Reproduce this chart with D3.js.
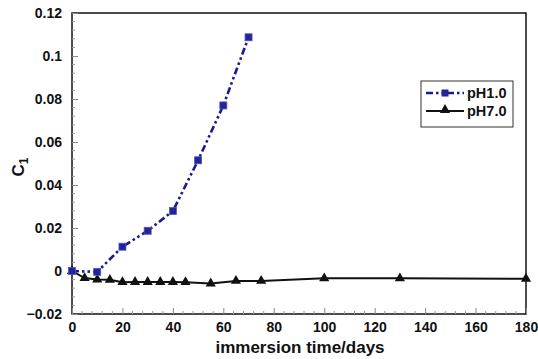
<!DOCTYPE html>
<html><head><meta charset="utf-8">
<script src="https://cdn.jsdelivr.net/npm/d3@7/dist/d3.min.js"></script>
<style>body{margin:0;background:#fff}svg{display:block}text{font-family:"Liberation Sans",Arial,sans-serif;font-weight:bold}</style>
</head><body><svg id="c" width="538" height="359"></svg>
<script>
const ph1Days = [0, 10, 20, 30, 40, 50, 60, 70];
const ph1Values = [0, -0.0004, 0.0113, 0.0187, 0.0279, 0.0515, 0.0770, 0.1087];
const ph7Days = [0, 5, 10, 15, 20, 25, 30, 35, 40, 45, 55, 65, 75, 100, 130, 180];
const ph7Values = [0, -0.0033, -0.0040, -0.0041, -0.0052, -0.0051, -0.0051, -0.0051, -0.0051, -0.0052, -0.0058, -0.0046, -0.0046, -0.0034, -0.0034, -0.0036];
const xTicks = [0, 20, 40, 60, 80, 100, 120, 140, 160, 180];
const yTicks = [-0.02, 0, 0.02, 0.04, 0.06, 0.08, 0.1, 0.12];
const seriesNames = ["pH1.0", "pH7.0"];

const svg = d3.select("#c");
const L = 72, R = 526, T = 13, B = 314;
const x = d3.scaleLinear().domain([0, 180]).range([L, R]);
const y = d3.scaleLinear().domain([-0.02, 0.12]).range([B, T]);

svg.append("rect").attr("x", L).attr("y", T).attr("width", R - L).attr("height", B - T)
  .attr("fill", "none").attr("stroke", "#111").attr("stroke-width", 1.5);

const xMinor = d3.range(0, 181, 4).filter(d => d % 20 !== 0);
const yMinor = d3.range(-0.02, 0.1201, 0.004).filter(d => Math.abs(Math.round(d / 0.02) * 0.02 - d) > 1e-6);
const gx = svg.append("g").attr("transform", `translate(0,${B})`);
gx.call(d3.axisBottom(x).tickValues(xTicks).tickFormat(d3.format("d")).tickSizeInner(-6).tickSizeOuter(0).tickPadding(8));
gx.select(".domain").remove();
gx.selectAll(".tick line").attr("stroke", "#888");
gx.selectAll("text").attr("font-size", 14).attr("fill", "#111");
gx.selectAll(".minor").data(xMinor).enter().append("line").attr("class", "minor")
  .attr("x1", d => x(d)).attr("x2", d => x(d)).attr("y1", 0).attr("y2", -3).attr("stroke", "#999");

const gy = svg.append("g").attr("transform", `translate(${L},0)`);
gy.call(d3.axisLeft(y).tickValues(yTicks).tickFormat(d => d === 0 ? "0" : d3.format("")(+d.toFixed(2))).tickSizeInner(-6).tickSizeOuter(0).tickPadding(10));
gy.select(".domain").remove();
gy.selectAll(".tick line").attr("stroke", "#888");
gy.selectAll("text").attr("font-size", 14).attr("fill", "#111");
gy.selectAll(".minor").data(yMinor).enter().append("line").attr("class", "minor")
  .attr("x1", 0).attr("x2", 3).attr("y1", d => y(d)).attr("y2", d => y(d)).attr("stroke", "#999");

svg.append("text").attr("x", 300).attr("y", 353).attr("text-anchor", "middle")
  .attr("font-size", 17).attr("fill", "#111").text("immersion time/days");
const yt = svg.append("text").attr("transform", "translate(24,167) rotate(-90)").attr("text-anchor", "middle")
  .attr("font-size", 17).attr("fill", "#111");
yt.append("tspan").text("C");
yt.append("tspan").attr("font-size", 12).attr("dy", 4).text("1");

const line = d3.line().x(d => x(d[0])).y(d => y(d[1]));
const ph7 = ph7Days.map((d, i) => [d, ph7Values[i]]);
const ph1 = ph1Days.map((d, i) => [d, ph1Values[i]]);
const blue = "#1a1a8f";

svg.append("path").datum(ph7).attr("d", line).attr("fill", "none").attr("stroke", "#111").attr("stroke-width", 2);
const tri = d3.symbol().type(d3.symbolTriangle).size(45);
svg.selectAll(".t").data(ph7).enter().append("path").attr("d", tri)
  .attr("transform", d => `translate(${x(d[0])},${y(d[1])})`).attr("fill", "#111");

svg.append("path").datum(ph1).attr("d", line).attr("fill", "none").attr("stroke", blue)
  .attr("stroke-width", 2.6).attr("stroke-dasharray", "7,3,2.5,3,2.5,3");
svg.selectAll(".s").data(ph1).enter().append("rect")
  .attr("x", d => x(d[0]) - 3.5).attr("y", d => y(d[1]) - 3.5).attr("width", 7).attr("height", 7)
  .attr("fill", "#23239a").attr("stroke", "#5555b5").attr("stroke-width", 0.8);

const lg = svg.append("g");
lg.append("rect").attr("x", 421).attr("y", 81).attr("width", 92).attr("height", 46)
  .attr("fill", "#fff").attr("stroke", "#333").attr("stroke-width", 1);
lg.append("line").attr("x1", 426).attr("x2", 464).attr("y1", 93).attr("y2", 93)
  .attr("stroke", blue).attr("stroke-width", 2.6).attr("stroke-dasharray", "7,3,2.5,3,2.5,3");
lg.append("rect").attr("x", 441.5).attr("y", 89.5).attr("width", 7).attr("height", 7).attr("fill", "#23239a");
lg.append("line").attr("x1", 426).attr("x2", 464).attr("y1", 111).attr("y2", 111).attr("stroke", "#111").attr("stroke-width", 2);
lg.append("path").attr("d", tri).attr("transform", "translate(445,110)").attr("fill", "#111");
lg.selectAll(".lt").data(seriesNames).enter().append("text")
  .attr("x", 467).attr("y", (d, i) => 98 + i * 18).attr("font-size", 14.5).attr("fill", "#111").text(d => d);
</script></body></html>
